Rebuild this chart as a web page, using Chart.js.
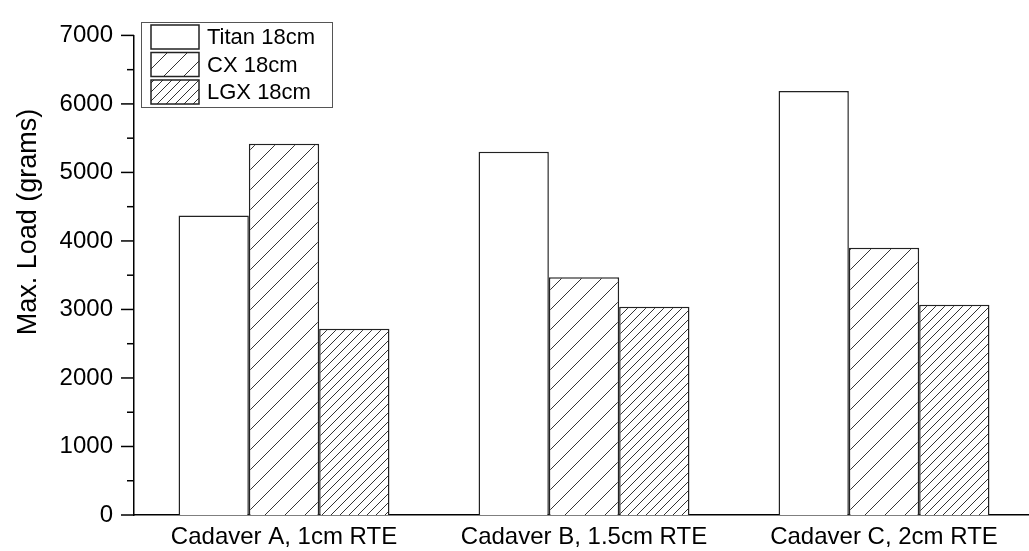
<!DOCTYPE html>
<html>
<head>
<meta charset="utf-8">
<script src="https://cdn.jsdelivr.net/npm/chart.js@4"></script>
<style>
  html, body { margin: 0; padding: 0; background: #fff; overflow: hidden; }
  #wrap { width: 1040px; height: 551px; }
</style>
</head>
<body>
<div id="wrap"><canvas id="chart" width="1040" height="551"></canvas></div>
<script>
// Max load per cadaver / retractor
const categories = ["Cadaver A, 1cm RTE", "Cadaver B, 1.5cm RTE", "Cadaver C, 2cm RTE"]
const seriesNames = ["Titan 18cm", "CX 18cm", "LGX 18cm"]
const titanValues = [4370, 5300, 6190]
const cxValues = [5420, 3470, 3900]
const lgxValues = [2720, 3040, 3070]
const yTicks = [0, 1000, 2000, 3000, 4000, 5000, 6000, 7000]

const FONT = "'Liberation Sans', Arial, sans-serif"

// diagonal hatch tile, spacing in px
function hatch(spacing) {
  const c = document.createElement("canvas")
  c.width = spacing
  c.height = spacing
  const g = c.getContext("2d")
  g.fillStyle = "#fff"
  g.fillRect(0, 0, spacing, spacing)
  g.strokeStyle = "#333"
  g.lineWidth = 1
  g.beginPath()
  g.moveTo(0, spacing); g.lineTo(spacing, 0)
  g.moveTo(-1, 1); g.lineTo(1, -1)
  g.moveTo(spacing - 1, spacing + 1); g.lineTo(spacing + 1, spacing - 1)
  g.stroke()
  return g.createPattern(c, "repeat")
}

const ctx = document.getElementById("chart").getContext("2d")
const fills = ["#ffffff", hatch(20), hatch(9)]

// y axis ticks: long major, short minor every 500
const axisTicks = {
  id: "axisTicks",
  afterDraw(chart) {
    const y = chart.scales.y
    const g = chart.ctx
    const x0 = chart.chartArea.left
    g.save()
    g.strokeStyle = "#000"
    g.lineWidth = 1.5
    for (let v = 0; v <= 7000; v += 500) {
      const py = y.getPixelForValue(v)
      const len = v % 1000 === 0 ? 13 : 7
      g.beginPath()
      g.moveTo(x0 - len, py)
      g.lineTo(x0, py)
      g.stroke()
    }
    // axis title, set a bit above the middle like the original
    g.translate(29, 222)
    g.rotate(-Math.PI / 2)
    g.fillStyle = "#000"
    g.font = "27px " + FONT
    g.textAlign = "center"
    g.textBaseline = "middle"
    g.fillText("Max. Load (grams)", 0, 0)
    g.restore()
  }
}

// boxed legend in the upper left corner
const boxLegend = {
  id: "boxLegend",
  afterDraw(chart) {
    const g = chart.ctx
    g.save()
    g.fillStyle = "#fff"
    g.fillRect(141, 22, 191, 85)
    g.strokeStyle = "#555"
    g.lineWidth = 1
    g.strokeRect(141.5, 22.5, 191, 85)
    g.font = "22px " + FONT
    g.textBaseline = "middle"
    chart.data.datasets.forEach((ds, i) => {
      const top = 25 + i * 27.5
      g.fillStyle = ds.backgroundColor
      g.fillRect(151, top, 48, 24)
      g.strokeStyle = "#222"
      g.lineWidth = 1.5
      g.strokeRect(151, top, 48, 24)
      g.fillStyle = "#000"
      g.fillText(ds.label, 207, top + 13)
    })
    g.restore()
  }
}

new Chart(ctx, {
  type: "bar",
  data: {
    labels: categories,
    datasets: [titanValues, cxValues, lgxValues].map((vals, i) => ({
      label: seriesNames[i],
      data: vals,
      backgroundColor: fills[i],
      borderColor: "#222",
      borderWidth: 1.5,
      categoryPercentage: 0.703,
      barPercentage: 1.0
    }))
  },
  options: {
    responsive: false,
    animation: false,
    layout: { padding: { top: 19, right: 6, left: 0, bottom: 0 } },
    plugins: {
      legend: { display: false },
      tooltip: { enabled: false }
    },
    scales: {
      x: {
        grid: { display: false, drawTicks: false },
        border: { display: true, color: "#000", width: 1.5 },
        ticks: { color: "#000", font: { family: FONT, size: 24 }, padding: 8, maxRotation: 0 },
        afterFit: (s) => { s.height = 36 }
      },
      y: {
        min: 0,
        max: 7000,
        afterBuildTicks: (s) => { s.ticks = yTicks.map(v => ({ value: v })) },
        grid: { display: false, drawTicks: false },
        border: { display: true, color: "#000", width: 1.5 },
        ticks: {
          color: "#000",
          font: { family: FONT, size: 24 },
          padding: 21,
          callback: (v) => String(v)
        },
        afterFit: (s) => { s.width = 134 }
      }
    }
  },
  plugins: [axisTicks, boxLegend]
})
</script>
</body>
</html>
